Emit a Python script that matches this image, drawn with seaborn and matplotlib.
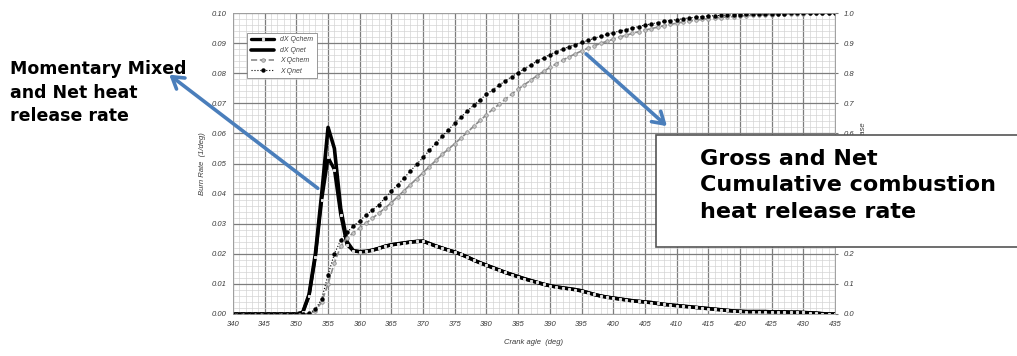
import numpy as np
import pandas as pd
import seaborn as sns
import matplotlib.pyplot as plt
from matplotlib.patches import Rectangle
from matplotlib.ticker import MultipleLocator, FormatStrFormatter

# crank angle, 1 deg steps
crank = list(range(340, 436))

# burn rate (1/deg)
dx_qnet = [0.0] * 11 + [
    0.0005, 0.0065, 0.020, 0.040, 0.062, 0.055, 0.035, 0.024, 0.021,            # 351-359
    0.0207, 0.0208, 0.0212, 0.0218, 0.0225, 0.0230, 0.0233, 0.0236, 0.0239, 0.0241,  # 360-369
    0.0242, 0.0234, 0.0226, 0.0219, 0.0212, 0.0206, 0.0198, 0.0189, 0.0179, 0.0170,  # 370-379
    0.0162, 0.0154, 0.0146, 0.0138, 0.0131, 0.0124, 0.0117, 0.0111, 0.0105, 0.0099,  # 380-389
    0.0094, 0.0090, 0.0087, 0.0084, 0.0081, 0.0077, 0.0071, 0.0065, 0.0060, 0.0056,  # 390-399
    0.0053, 0.0050, 0.0047, 0.0044, 0.0042, 0.0040, 0.0038, 0.0035, 0.0032, 0.0030,  # 400-409
    0.0028, 0.0026, 0.0024, 0.0022, 0.0020, 0.0018, 0.0016, 0.0014, 0.0012, 0.0010,  # 410-419
    0.0009, 0.0008, 0.0008, 0.0008, 0.0008, 0.0007, 0.0007, 0.0007, 0.0006, 0.0006,  # 420-429
    0.0005, 0.0004, 0.0003, 0.0001, 0.0, 0.0,                                        # 430-435
]
dx_qchem = [0.0] * 11 + [
    0.0005, 0.0060, 0.019, 0.038, 0.052, 0.048, 0.033, 0.023, 0.021,
    0.0207, 0.0208, 0.0212, 0.0218, 0.0225, 0.0230, 0.0233, 0.0236, 0.0239, 0.0241,
    0.0242, 0.0234, 0.0226, 0.0219, 0.0212, 0.0206, 0.0198, 0.0189, 0.0179, 0.0170,
    0.0162, 0.0154, 0.0146, 0.0138, 0.0131, 0.0124, 0.0117, 0.0111, 0.0105, 0.0099,
    0.0094, 0.0090, 0.0087, 0.0084, 0.0081, 0.0077, 0.0071, 0.0065, 0.0060, 0.0056,
    0.0053, 0.0050, 0.0047, 0.0044, 0.0042, 0.0040, 0.0038, 0.0035, 0.0032, 0.0030,
    0.0028, 0.0026, 0.0024, 0.0022, 0.0020, 0.0018, 0.0016, 0.0014, 0.0012, 0.0010,
    0.0009, 0.0008, 0.0008, 0.0008, 0.0008, 0.0007, 0.0007, 0.0007, 0.0006, 0.0006,
    0.0005, 0.0004, 0.0003, 0.0001, 0.0, 0.0,
]

# cumulative heat release (right axis)
x_qnet = [0.0] * 12 + [
    0.003, 0.015, 0.050, 0.130, 0.200, 0.245, 0.272, 0.292,                # 352-359
    0.310, 0.328, 0.346, 0.363, 0.385, 0.408, 0.430, 0.452, 0.475, 0.498,  # 360-369
    0.520, 0.544, 0.567, 0.590, 0.612, 0.634, 0.655, 0.675, 0.694, 0.712,  # 370-379
    0.730, 0.745, 0.760, 0.775, 0.789, 0.802, 0.815, 0.828, 0.840, 0.851,  # 380-389
    0.862, 0.871, 0.880, 0.888, 0.895, 0.902, 0.909, 0.916, 0.923, 0.929,  # 390-399
    0.935, 0.940, 0.945, 0.950, 0.955, 0.960, 0.964, 0.968, 0.972, 0.975,  # 400-409
    0.978, 0.981, 0.984, 0.986, 0.988, 0.990, 0.991, 0.992, 0.993, 0.994,  # 410-419
    0.995, 0.996, 0.996, 0.997, 0.997, 0.998, 0.998, 0.998, 0.999, 0.999,  # 420-429
    0.999, 0.999, 1.000, 1.000, 1.000, 1.000,                              # 430-435
]
x_qchem = [0.0] * 13 + [
    0.010, 0.040, 0.100, 0.170, 0.225, 0.252, 0.270,                       # 353-359
    0.286, 0.302, 0.318, 0.335, 0.352, 0.370, 0.390, 0.410, 0.430, 0.450,
    0.470, 0.490, 0.510, 0.530, 0.548, 0.566, 0.585, 0.604, 0.624, 0.643,
    0.662, 0.680, 0.697, 0.714, 0.731, 0.747, 0.762, 0.777, 0.792, 0.806,
    0.819, 0.831, 0.843, 0.854, 0.864, 0.874, 0.883, 0.891, 0.899, 0.906,
    0.913, 0.920, 0.926, 0.932, 0.938, 0.943, 0.948, 0.953, 0.958, 0.962,
    0.966, 0.970, 0.973, 0.976, 0.979, 0.981, 0.983, 0.985, 0.987, 0.988,
    0.990, 0.991, 0.992, 0.993, 0.994, 0.995, 0.996, 0.996, 0.997, 0.998,
    0.998, 0.999, 0.999, 1.000, 1.000, 1.000,
]

df = pd.DataFrame({"crank": crank, "dX Qchem": dx_qchem, "dX Qnet": dx_qnet,
                   "X Qchem": x_qchem, "X Qnet": x_qnet})

sns.set_style("white")
plt.rcParams["font.family"] = ["Liberation Sans", "DejaVu Sans"]

W, H = 1017, 356
fig = plt.figure(figsize=(W / 100, H / 100), dpi=100)
ax = fig.add_axes([233 / W, 1 - 314 / H, (835 - 233) / W, (314 - 13) / H])
ax2 = ax.twinx()

# burn rate curves
sns.lineplot(data=df, x="crank", y="dX Qnet", ax=ax, color="black", lw=2.6,
             label="dX Qnet", legend=False, zorder=3)
sns.lineplot(data=df, x="crank", y="dX Qchem", ax=ax, color="black", lw=2.4,
             marker="s", markersize=1.8, markerfacecolor="#dcdcdc",
             markeredgecolor="#dcdcdc", label="dX Qchem", legend=False, zorder=4)

# cumulative curves
sns.lineplot(data=df, x="crank", y="X Qchem", ax=ax2, color="#8a8a8a", lw=1.2,
             linestyle="--", marker="o", markersize=2.6, markerfacecolor="#c4c4c4",
             markeredgecolor="#8a8a8a", markeredgewidth=0.5, label="X Qchem",
             legend=False)
sns.lineplot(data=df, x="crank", y="X Qnet", ax=ax2, color="black", lw=0.8,
             linestyle=":", marker="o", markersize=3.2, markeredgewidth=0,
             label="X Qnet", legend=False)

ax.set_xlim(340, 435)
ax.set_ylim(0, 0.10)
ax2.set_ylim(0, 1.0)

ax.xaxis.set_major_locator(MultipleLocator(5))
ax.xaxis.set_minor_locator(MultipleLocator(1))
ax.yaxis.set_major_locator(MultipleLocator(0.01))
ax.yaxis.set_minor_locator(MultipleLocator(0.002))
ax.yaxis.set_major_formatter(FormatStrFormatter("%.2f"))
ax2.yaxis.set_major_locator(MultipleLocator(0.1))
ax2.yaxis.set_major_formatter(FormatStrFormatter("%.1f"))

ax.grid(which="major", color="#7d7d7d", lw=0.9)
ax.grid(which="minor", color="#d4d4d4", lw=0.5)
ax.set_axisbelow(True)

tick_font = dict(fontsize=5.5, fontstyle="italic", color="#3a3a3a")
for lab in ax.get_xticklabels() + ax.get_yticklabels() + ax2.get_yticklabels():
    lab.set_fontsize(5.5)
    lab.set_fontstyle("italic")
    lab.set_color("#3a3a3a")
ax.tick_params(axis="both", which="both", length=0, pad=5)
ax2.tick_params(axis="y", length=2, pad=4, color="#777777")

ax.set_xlabel("Crank agle  (deg)", labelpad=8, **tick_font)
ax.set_ylabel("Burn Rate  (1/deg)", labelpad=4, **tick_font)
ax2.set_ylabel("Cumulative heat release", labelpad=4, **tick_font)

# right-axis labels 0.3-0.5 sit completely under the callout box, as in the original
fig.canvas.draw()
for lab in ax2.get_yticklabels():
    if lab.get_text() in ("0.3", "0.4", "0.5"):
        lab.set_visible(False)

for a in (ax, ax2):
    for s in a.spines.values():
        s.set_color("#a0a0a0")
        s.set_linewidth(0.6)

# legend
h1, l1 = ax.get_legend_handles_labels()
h2, l2 = ax2.get_legend_handles_labels()
hmap = dict(zip(l1 + l2, h1 + h2))
order = ["dX Qchem", "dX Qnet", "X Qchem", "X Qnet"]
leg = ax2.legend([hmap[k] for k in order], order, loc="upper left",
                 bbox_to_anchor=(0.018, 0.945), fontsize=5.0, frameon=True,
                 fancybox=False, edgecolor="#888888", framealpha=1,
                 handlelength=3.4, borderpad=0.5, labelspacing=0.5)
leg.get_frame().set_linewidth(0.6)
for t in leg.get_texts():
    t.set_fontstyle("italic")
    t.set_color("#444444")

# callouts
blue = "#4a7ebb"


def fpos(px, py):
    return (px / W, 1 - py / H)


ax2.annotate("", xy=fpos(167, 73), xycoords="figure fraction",
             xytext=fpos(320, 190), textcoords="figure fraction",
             arrowprops=dict(arrowstyle="->,head_length=0.8,head_width=0.5",
                             color=blue, lw=2.6), annotation_clip=False)
ax2.annotate("", xy=fpos(669, 128), xycoords="figure fraction",
             xytext=fpos(584, 52), textcoords="figure fraction",
             arrowprops=dict(arrowstyle="->,head_length=0.8,head_width=0.5",
                             color=blue, lw=2.6), annotation_clip=False)

fig.text(10 / W, 1 - 60 / H, "Momentary Mixed\nand Net heat\nrelease rate",
         ha="left", va="top", fontsize=12.5, fontweight="bold",
         family="DejaVu Sans", linespacing=1.4, color="black")

box = Rectangle(fpos(656, 247), (W + 5 - 656) / W, (247 - 135) / H,
                transform=fig.transFigure, facecolor="white",
                edgecolor="#555555", lw=1.2, zorder=10)
fig.add_artist(box)
fig.text(700 / W, 1 - 149 / H, "Gross and Net\nCumulative combustion\nheat release rate",
         ha="left", va="top", fontsize=16, fontweight="bold",
         family="DejaVu Sans", linespacing=1.4, color="black", zorder=11)

fig.savefig("out.png", dpi=100)
